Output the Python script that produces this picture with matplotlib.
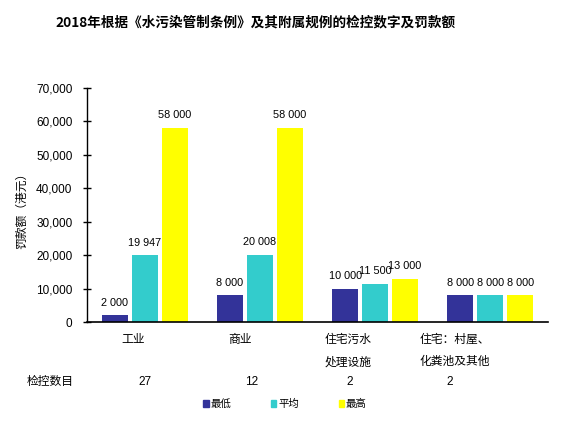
import matplotlib
matplotlib.use("Agg")
import matplotlib.pyplot as plt
import numpy as np
from matplotlib.patches import Patch

plt.rcParams['font.family'] = ['Liberation Sans', 'Noto Sans CJK SC', 'DejaVu Sans']

# ---- data ----
categories = ['工业', '商业', '住宅污水\n处理设施', '住宅：村屋、\n化粪池及其他']
series_names = ['最低', '平均', '最高']
minimum = [2000, 8000, 10000, 8000]
average = [19947, 20008, 11500, 8000]
maximum = [58000, 58000, 13000, 8000]
case_counts = ['27', '12', '2', '2']
yticks = [0, 10000, 20000, 30000, 40000, 50000, 60000, 70000]
title = '2018年根据《水污染管制条例》及其附属规例的检控数字及罚款额'
ylabel = '罚款额（港元）'
row_label = '检控数目'

colors = ['#333399', '#33CCCC', '#FFFF00']

fig = plt.figure(figsize=(5.65, 4.4), dpi=100)
ax = fig.add_axes([87/565, 1-322/440, (548-87)/565, (322-88)/440])

x = np.arange(len(categories))
offsets = [-0.26, 0.0, 0.26]
width = 0.226
for vals, off, c in zip([minimum, average, maximum], offsets, colors):
    bars = ax.bar(x + off, vals, width=width, color=c, zorder=2)
    for b, v in zip(bars, vals):
        ax.text(b.get_x() + b.get_width()/2, v + 2300, f"{v:,}".replace(',', ' '),
                ha='center', va='bottom', fontsize=7.8)

ax.set_xlim(-0.5, len(categories) - 0.5)
ax.set_ylim(0, 70000)
ax.set_yticks(yticks)
ax.set_yticklabels([f"{t:,}" for t in yticks], fontsize=8.5)
ax.set_xticks([])
for s in ['top', 'right']:
    ax.spines[s].set_visible(False)
ax.spines['left'].set_linewidth(1.0)
ax.spines['bottom'].set_linewidth(1.2)
ax.tick_params(axis='y', direction='inout', length=6, width=1, pad=7.5)

# title and y label
fig.text(256/565, 1-22/440, title, ha='center', va='center', fontsize=9.8,
         fontweight='bold', family=['Noto Sans CJK SC', 'DejaVu Sans'])
fig.text(22/565, 1-208/440, ylabel, ha='center', va='center', rotation=90, fontsize=8.5)

# category labels and case counts (positions in figure pixels)
cat_x = [133, 240, 348, 455]
count_x = [145, 252, 350, 450]
for cx, lab in zip(cat_x, categories):
    fig.text(cx/565, 1-334/440, lab, ha='center', va='top', fontsize=8.5, linespacing=2.15)
fig.text(50/565, 1-382/440, row_label, ha='center', va='center', fontsize=8.5)
for cx, n in zip(count_x, case_counts):
    fig.text(cx/565, 1-382/440, n, ha='center', va='center', fontsize=8.5)

handles = [Patch(color=c) for c in colors]
fig.legend(handles, series_names, loc='center', bbox_to_anchor=(285/565, 1-404/440),
           ncol=3, frameon=False, fontsize=7.5, handlelength=0.5, handleheight=0.6,
           handletextpad=0.2, columnspacing=3.8)

fig.savefig('out.png', dpi=100)
